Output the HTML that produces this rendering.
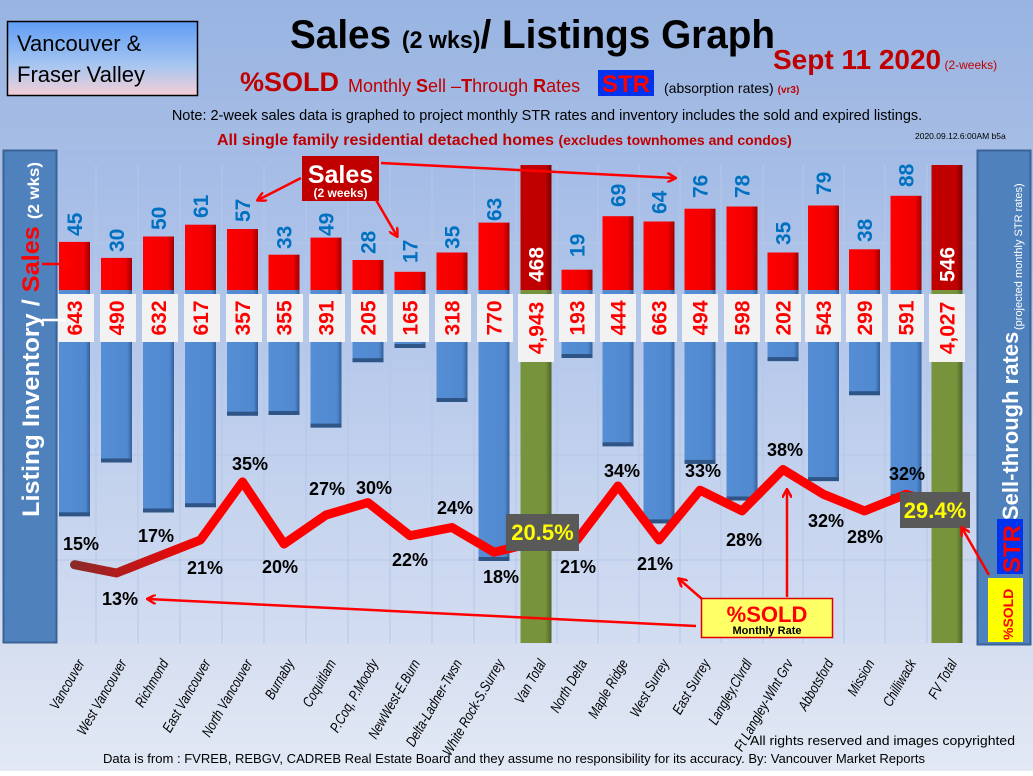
<!DOCTYPE html>
<html><head><meta charset="utf-8"><style>
html,body{margin:0;padding:0;}
body{width:1033px;height:771px;overflow:hidden;font-family:"Liberation Sans",sans-serif;}
</style></head><body>
<svg width="1033" height="771" viewBox="0 0 1033 771" xmlns="http://www.w3.org/2000/svg" font-family="Liberation Sans, sans-serif">
<defs>
<linearGradient id="bg" x1="0" y1="0" x2="0" y2="1"><stop offset="0" stop-color="#98b4e2"/><stop offset="0.5" stop-color="#bccbe9"/><stop offset="1" stop-color="#e2e8f4"/></linearGradient>
<linearGradient id="plot" x1="0" y1="0" x2="0" y2="1"><stop offset="0" stop-color="#a3bbe6"/><stop offset="1" stop-color="#d3ddf1"/></linearGradient>
<linearGradient id="vb" x1="0" y1="0" x2="0" y2="1"><stop offset="0" stop-color="#5f9df5"/><stop offset="0.6" stop-color="#a8c6f0"/><stop offset="1" stop-color="#f4cfd6"/></linearGradient>
<linearGradient id="red" x1="0" y1="0" x2="1" y2="0"><stop offset="0" stop-color="#ff0000"/><stop offset="0.8" stop-color="#f00000"/><stop offset="1" stop-color="#a00000"/></linearGradient>
<linearGradient id="dred" x1="0" y1="0" x2="1" y2="0"><stop offset="0" stop-color="#c00000"/><stop offset="0.8" stop-color="#c00000"/><stop offset="1" stop-color="#7a0000"/></linearGradient>
<linearGradient id="blue" x1="0" y1="0" x2="1" y2="0"><stop offset="0" stop-color="#558ed5"/><stop offset="0.85" stop-color="#5089d0"/><stop offset="1" stop-color="#34609a"/></linearGradient>
<linearGradient id="grn" x1="0" y1="0" x2="1" y2="0"><stop offset="0" stop-color="#77933c"/><stop offset="0.8" stop-color="#77933c"/><stop offset="1" stop-color="#4f6327"/></linearGradient>
<linearGradient id="ln" gradientUnits="userSpaceOnUse" x1="74" y1="0" x2="210" y2="0"><stop offset="0" stop-color="#8c2a2a"/><stop offset="1" stop-color="#ff0000"/></linearGradient>
<marker id="ar" markerWidth="10" markerHeight="10" refX="8" refY="5" orient="auto" markerUnits="userSpaceOnUse"><path d="M0,0 L9,5 L0,10" fill="none" stroke="#ff0000" stroke-width="2.5"/></marker>
</defs>
<rect width="1033" height="771" fill="url(#bg)"/>
<rect x="56" y="150" width="921" height="494" fill="url(#plot)"/>
<g stroke="#b4c7e8" stroke-width="1">
<line x1="56" y1="243" x2="977" y2="243"/><line x1="56" y1="352" x2="977" y2="352"/><line x1="56" y1="455" x2="977" y2="455"/><line x1="56" y1="560" x2="977" y2="560"/>
<line x1="96" y1="165" x2="96" y2="643"/><line x1="138" y1="165" x2="138" y2="643"/><line x1="180" y1="165" x2="180" y2="643"/><line x1="222" y1="165" x2="222" y2="643"/><line x1="264" y1="165" x2="264" y2="643"/><line x1="306" y1="165" x2="306" y2="643"/><line x1="348" y1="165" x2="348" y2="643"/><line x1="390" y1="165" x2="390" y2="643"/><line x1="432" y1="165" x2="432" y2="643"/><line x1="474" y1="165" x2="474" y2="643"/><line x1="516" y1="165" x2="516" y2="643"/><line x1="557" y1="165" x2="557" y2="643"/><line x1="598" y1="165" x2="598" y2="643"/><line x1="639" y1="165" x2="639" y2="643"/><line x1="680" y1="165" x2="680" y2="643"/><line x1="721" y1="165" x2="721" y2="643"/><line x1="763" y1="165" x2="763" y2="643"/><line x1="803" y1="165" x2="803" y2="643"/><line x1="844" y1="165" x2="844" y2="643"/><line x1="885" y1="165" x2="885" y2="643"/><line x1="927" y1="165" x2="927" y2="643"/>
</g>

<!-- header -->
<rect x="7.5" y="21.5" width="190" height="74" fill="url(#vb)" stroke="#000" stroke-width="1.5"/>
<text x="17" y="51" font-size="22" fill="#000">Vancouver &amp;</text>
<text x="17" y="82" font-size="22" fill="#000">Fraser Valley</text>
<text x="290" y="48" font-size="40" font-weight="bold" fill="#000" textLength="485" lengthAdjust="spacingAndGlyphs">Sales <tspan font-size="24">(2 wks)</tspan>/ Listings Graph</text>
<text x="773" y="69" font-size="28" font-weight="bold" fill="#c00000">Sept 11  2020<tspan font-size="12" font-weight="normal"> (2-weeks)</tspan></text>
<text x="240" y="91" font-size="27" font-weight="bold" fill="#c00000">%SOLD</text>
<text x="348" y="92" font-size="18" fill="#c00000">Monthly <tspan font-weight="bold">S</tspan>ell –<tspan font-weight="bold">T</tspan>hrough <tspan font-weight="bold">R</tspan>ates</text>
<rect x="598" y="70" width="56" height="26" fill="#0033ee"/>
<text x="626" y="92" font-size="24" font-weight="bold" fill="#ff0000" text-anchor="middle">STR</text>
<text x="664" y="93" font-size="14" fill="#000">(absorption rates) <tspan font-size="10" font-weight="bold" fill="#c00000">(vr3)</tspan></text>
<text x="547" y="120" font-size="14.5" fill="#000" text-anchor="middle">Note: 2-week sales data is graphed to project monthly STR rates and inventory includes the sold and expired listings.</text>
<text x="217" y="145" font-size="16" font-weight="bold" fill="#c00000">All single family residential detached homes <tspan font-size="14">(excludes townhomes and condos)</tspan></text>
<text x="915" y="139" font-size="8.5" fill="#000">2020.09.12.6:00AM b5a</text>

<!-- side panels -->
<rect x="3.5" y="150.5" width="53" height="492" fill="#4f81bd" stroke="#3a6296" stroke-width="2"/>
<text transform="translate(39,517) rotate(-90)" font-size="24" font-weight="bold" fill="#fff" textLength="355" lengthAdjust="spacingAndGlyphs">Listing Inventory / <tspan fill="#ff0000">Sales</tspan> <tspan font-size="16">(2  wks)</tspan></text>
<rect x="977.5" y="150.5" width="53" height="494" fill="#4f81bd" stroke="#3a6296" stroke-width="2"/>
<text transform="translate(1018,520) rotate(-90)" font-size="22" font-weight="bold" fill="#fff">Sell-through rates</text>
<text transform="translate(1022,330) rotate(-90)" font-size="11" fill="#fff">(projected monthly STR rates)</text>
<rect x="997" y="519" width="26" height="55" fill="#0033ee"/>
<text transform="translate(1020,573) rotate(-90)" font-size="24" font-weight="bold" fill="#ff0000">STR</text>
<rect x="988" y="578" width="35" height="64" fill="#ffff00"/>
<text transform="translate(1013,640) rotate(-90)" font-size="14" font-weight="bold" fill="#ff0000">%SOLD</text>

<!-- sales bars -->
<g fill="url(#red)">
<rect x="59" y="241.9" width="31" height="48.1"/><rect x="101" y="257.9" width="31" height="32.1"/><rect x="143" y="236.5" width="31" height="53.5"/><rect x="185" y="224.7" width="31" height="65.3"/><rect x="227" y="229" width="31" height="61"/><rect x="268.5" y="254.7" width="31" height="35.3"/><rect x="310.5" y="237.6" width="31" height="52.4"/><rect x="352.5" y="260" width="31" height="30"/><rect x="394.5" y="271.8" width="31" height="18.2"/><rect x="436.5" y="252.5" width="31" height="37.5"/><rect x="478.5" y="222.6" width="31" height="67.4"/>
<rect x="561.5" y="269.7" width="31" height="20.3"/><rect x="602.5" y="216.2" width="31" height="73.8"/><rect x="643.5" y="221.5" width="31" height="68.5"/><rect x="684.5" y="208.7" width="31" height="81.3"/><rect x="726.5" y="206.5" width="31" height="83.5"/><rect x="767.5" y="252.5" width="31" height="37.5"/><rect x="808" y="205.5" width="31" height="84.5"/><rect x="849" y="249.3" width="31" height="40.7"/><rect x="890.5" y="195.8" width="31" height="94.2"/>
</g>
<rect x="520.5" y="165" width="31" height="125" fill="url(#dred)"/>
<rect x="931.5" y="165" width="31" height="125" fill="url(#dred)"/>
<rect x="520.5" y="290" width="31" height="353" fill="url(#grn)"/>
<rect x="931.5" y="290" width="31" height="353" fill="url(#grn)"/>

<!-- listing bars -->
<g fill="url(#blue)">
<rect x="59" y="290" width="31" height="226.3"/><rect x="101" y="290" width="31" height="172.5"/><rect x="143" y="290" width="31" height="222.5"/><rect x="185" y="290" width="31" height="217.2"/><rect x="227" y="290" width="31" height="125.7"/><rect x="268.5" y="290" width="31" height="125"/><rect x="310.5" y="290" width="31" height="137.6"/><rect x="352.5" y="290" width="31" height="72.2"/><rect x="394.5" y="290" width="31" height="58"/><rect x="436.5" y="290" width="31" height="112"/><rect x="478.5" y="290" width="31" height="271"/>
<rect x="561.5" y="290" width="31" height="68"/><rect x="602.5" y="290" width="31" height="156.3"/><rect x="643.5" y="290" width="31" height="233.4"/><rect x="684.5" y="290" width="31" height="173.9"/><rect x="726.5" y="290" width="31" height="210.5"/><rect x="767.5" y="290" width="31" height="71.1"/><rect x="808" y="290" width="31" height="191.1"/><rect x="849" y="290" width="31" height="105.2"/><rect x="890.5" y="290" width="31" height="208"/>
</g>
<g fill="#2f5587">
<rect x="59" y="512.3" width="31" height="4"/><rect x="101" y="458.5" width="31" height="4"/><rect x="143" y="508.5" width="31" height="4"/><rect x="185" y="503.2" width="31" height="4"/><rect x="227" y="411.7" width="31" height="4"/><rect x="268.5" y="411" width="31" height="4"/><rect x="310.5" y="423.6" width="31" height="4"/><rect x="352.5" y="358.2" width="31" height="4"/><rect x="394.5" y="344" width="31" height="4"/><rect x="436.5" y="398" width="31" height="4"/><rect x="478.5" y="557" width="31" height="4"/>
<rect x="561.5" y="354" width="31" height="4"/><rect x="602.5" y="442.3" width="31" height="4"/><rect x="643.5" y="519.4" width="31" height="4"/><rect x="684.5" y="459.9" width="31" height="4"/><rect x="726.5" y="496.5" width="31" height="4"/><rect x="767.5" y="357.1" width="31" height="4"/><rect x="808" y="477.1" width="31" height="4"/><rect x="849" y="391.2" width="31" height="4"/><rect x="890.5" y="494" width="31" height="4"/>
</g>

<!-- listing label boxes -->
<g fill="#f2f2f2">
<rect x="58" y="294" width="36" height="48"/><rect x="100" y="294" width="36" height="48"/><rect x="142" y="294" width="36" height="48"/><rect x="184" y="294" width="36" height="48"/><rect x="226" y="294" width="36" height="48"/><rect x="267" y="294" width="36" height="48"/><rect x="309" y="294" width="36" height="48"/><rect x="351" y="294" width="36" height="48"/><rect x="393" y="294" width="36" height="48"/><rect x="435" y="294" width="36" height="48"/><rect x="477" y="294" width="36" height="48"/><rect x="518" y="294" width="36" height="68"/>
<rect x="559" y="294" width="36" height="48"/><rect x="600" y="294" width="36" height="48"/><rect x="641" y="294" width="36" height="48"/><rect x="682" y="294" width="36" height="48"/><rect x="724" y="294" width="36" height="48"/><rect x="765" y="294" width="36" height="48"/><rect x="805" y="294" width="36" height="48"/><rect x="846" y="294" width="36" height="48"/><rect x="888" y="294" width="36" height="48"/><rect x="929" y="294" width="36" height="68"/>
</g>
<g font-size="21" font-weight="bold" fill="#ff0000" text-anchor="middle">
<text transform="translate(82,318) rotate(-90)">643</text><text transform="translate(124,318) rotate(-90)">490</text><text transform="translate(166,318) rotate(-90)">632</text><text transform="translate(208,318) rotate(-90)">617</text><text transform="translate(250,318) rotate(-90)">357</text><text transform="translate(291.5,318) rotate(-90)">355</text><text transform="translate(333.5,318) rotate(-90)">391</text><text transform="translate(375.5,318) rotate(-90)">205</text><text transform="translate(417.5,318) rotate(-90)">165</text><text transform="translate(459.5,318) rotate(-90)">318</text><text transform="translate(501.5,318) rotate(-90)">770</text><text transform="translate(543.5,328) rotate(-90)">4,943</text>
<text transform="translate(584.5,318) rotate(-90)">193</text><text transform="translate(625.5,318) rotate(-90)">444</text><text transform="translate(666.5,318) rotate(-90)">663</text><text transform="translate(707.5,318) rotate(-90)">494</text><text transform="translate(749.5,318) rotate(-90)">598</text><text transform="translate(790.5,318) rotate(-90)">202</text><text transform="translate(831,318) rotate(-90)">543</text><text transform="translate(872,318) rotate(-90)">299</text><text transform="translate(913.5,318) rotate(-90)">591</text><text transform="translate(954.5,328) rotate(-90)">4,027</text>
</g>

<!-- sales labels -->
<g font-size="21" font-weight="bold" fill="#0070c0">
<text transform="translate(82,236) rotate(-90)">45</text><text transform="translate(124,252) rotate(-90)">30</text><text transform="translate(166,230) rotate(-90)">50</text><text transform="translate(208,218) rotate(-90)">61</text><text transform="translate(250,222) rotate(-90)">57</text><text transform="translate(291.5,249) rotate(-90)">33</text><text transform="translate(333.5,236) rotate(-90)">49</text><text transform="translate(375.5,254) rotate(-90)">28</text><text transform="translate(417.5,263) rotate(-90)">17</text><text transform="translate(459.5,249) rotate(-90)">35</text><text transform="translate(501.5,221) rotate(-90)">63</text>
<text transform="translate(584.5,257) rotate(-90)">19</text><text transform="translate(625.5,207) rotate(-90)">69</text><text transform="translate(666.5,214) rotate(-90)">64</text><text transform="translate(707.5,198) rotate(-90)">76</text><text transform="translate(749.5,198) rotate(-90)">78</text><text transform="translate(790.5,245) rotate(-90)">35</text><text transform="translate(831,195) rotate(-90)">79</text><text transform="translate(872,242) rotate(-90)">38</text><text transform="translate(913.5,187) rotate(-90)">88</text>
</g>
<g font-size="21" font-weight="bold" fill="#fff">
<text transform="translate(543.5,282) rotate(-90)">468</text>
<text transform="translate(954.5,282) rotate(-90)">546</text>
</g>

<!-- STR line -->
<polyline fill="none" stroke="url(#ln)" stroke-width="9" stroke-linejoin="round" stroke-linecap="round" points="74.5,564.7 116.5,573 158.5,556.4 200.5,539.9 242.5,481.9 284,544 326,515 368,502.6 410,535.7 452,527.5 494,552.3 536,542 577,539.9 618,486 659,539.9 700,490.2 742,510.9 783,469.5 823.5,494.3 864.5,510.9 906,494.3 947,505.1"/>

<rect x="506" y="514" width="73" height="37" fill="#595959"/>
<text x="542.5" y="540" font-size="22" font-weight="bold" fill="#ffff00" text-anchor="middle">20.5%</text>
<rect x="900" y="492" width="70" height="36" fill="#595959"/>
<text x="935" y="518" font-size="22" font-weight="bold" fill="#ffff00" text-anchor="middle">29.4%</text>

<g font-size="18" font-weight="bold" fill="#000" text-anchor="middle">
<text x="81" y="550">15%</text><text x="120" y="605">13%</text><text x="156" y="542">17%</text><text x="205" y="574">21%</text><text x="250" y="470">35%</text><text x="280" y="573">20%</text><text x="327" y="495">27%</text><text x="374" y="494">30%</text><text x="410" y="566">22%</text><text x="455" y="514">24%</text><text x="501" y="583">18%</text>
<text x="578" y="573">21%</text><text x="622" y="477">34%</text><text x="655" y="570">21%</text><text x="703" y="477">33%</text><text x="744" y="546">28%</text><text x="785" y="456">38%</text><text x="826" y="527">32%</text><text x="865" y="543">28%</text><text x="907" y="480">32%</text>
</g>

<!-- Sales callout -->
<rect x="302" y="156" width="77" height="45" fill="#c00000"/>
<text x="340.5" y="183" font-size="25" font-weight="bold" fill="#fff" text-anchor="middle">Sales</text>
<text x="340.5" y="197" font-size="12" font-weight="bold" fill="#fff" text-anchor="middle">(2 weeks)</text>
<g stroke="#ff0000" stroke-width="2.5" fill="none" marker-end="url(#ar)">
<line x1="301" y1="178" x2="258" y2="200"/>
<line x1="376" y1="200" x2="397" y2="236"/>
<line x1="381" y1="163" x2="675" y2="178"/>
<line x1="696" y1="626" x2="148" y2="599"/>
<line x1="702" y1="599" x2="679" y2="579"/>
<line x1="787" y1="597" x2="787" y2="490"/>
<line x1="989" y1="575" x2="962" y2="528"/>
<line x1="42" y1="264" x2="70" y2="264"/>
</g>
<line x1="42" y1="320" x2="66" y2="320" stroke="#fff" stroke-width="2.5"/>
<rect x="701.5" y="598.5" width="131" height="39" fill="#ffff66" stroke="#e00000" stroke-width="1.5"/>
<text x="767" y="622" font-size="22" font-weight="bold" fill="#ff0000" text-anchor="middle">%SOLD</text>
<text x="767" y="634" font-size="11" font-weight="bold" fill="#000" text-anchor="middle">Monthly Rate</text>

<!-- category labels -->
<g font-size="14.5" font-style="italic" fill="#000" text-anchor="end">
<text transform="translate(85,663) rotate(-60) scale(0.8,1)">Vancouver</text><text transform="translate(127,663) rotate(-60) scale(0.8,1)">West Vancouver</text><text transform="translate(169,663) rotate(-60) scale(0.8,1)">Richmond</text><text transform="translate(211,663) rotate(-60) scale(0.8,1)">East Vancouver</text><text transform="translate(253,663) rotate(-60) scale(0.8,1)">North Vancouver</text><text transform="translate(294.5,663) rotate(-60) scale(0.8,1)">Burnaby</text><text transform="translate(336.5,663) rotate(-60) scale(0.8,1)">Coquitlam</text><text transform="translate(378.5,663) rotate(-60) scale(0.8,1)">P.Coq, P.Moody</text><text transform="translate(420.5,663) rotate(-60) scale(0.8,1)">NewWest-E.Burn</text><text transform="translate(462.5,663) rotate(-60) scale(0.8,1)">Delta-Ladner-Twsn</text><text transform="translate(504.5,663) rotate(-60) scale(0.8,1)">White Rock-S.Surrey</text><text transform="translate(546.5,663) rotate(-60) scale(0.8,1)">Van Total</text>
<text transform="translate(587.5,663) rotate(-60) scale(0.8,1)">North Delta</text><text transform="translate(628.5,663) rotate(-60) scale(0.8,1)">Maple Ridge</text><text transform="translate(669.5,663) rotate(-60) scale(0.8,1)">West Surrey</text><text transform="translate(710.5,663) rotate(-60) scale(0.8,1)">East Surrey</text><text transform="translate(752.5,663) rotate(-60) scale(0.8,1)">Langley,Clvrdl</text><text transform="translate(793.5,663) rotate(-60) scale(0.8,1)">Ft Langley-Wlnt Grv</text><text transform="translate(834,663) rotate(-60) scale(0.8,1)">Abbotsford</text><text transform="translate(875,663) rotate(-60) scale(0.8,1)">Mission</text><text transform="translate(916.5,663) rotate(-60) scale(0.8,1)">Chilliwack</text><text transform="translate(957.5,663) rotate(-60) scale(0.8,1)">FV Total</text>
</g>

<text x="750" y="745" font-size="13" fill="#000" textLength="265" lengthAdjust="spacingAndGlyphs">All rights reserved and  images copyrighted</text>
<text x="103" y="763" font-size="13" fill="#000" textLength="822" lengthAdjust="spacingAndGlyphs">Data is from : FVREB, REBGV, CADREB Real Estate Board and they assume no responsibility for its accuracy. By: Vancouver Market Reports</text>
</svg>
</body></html>
